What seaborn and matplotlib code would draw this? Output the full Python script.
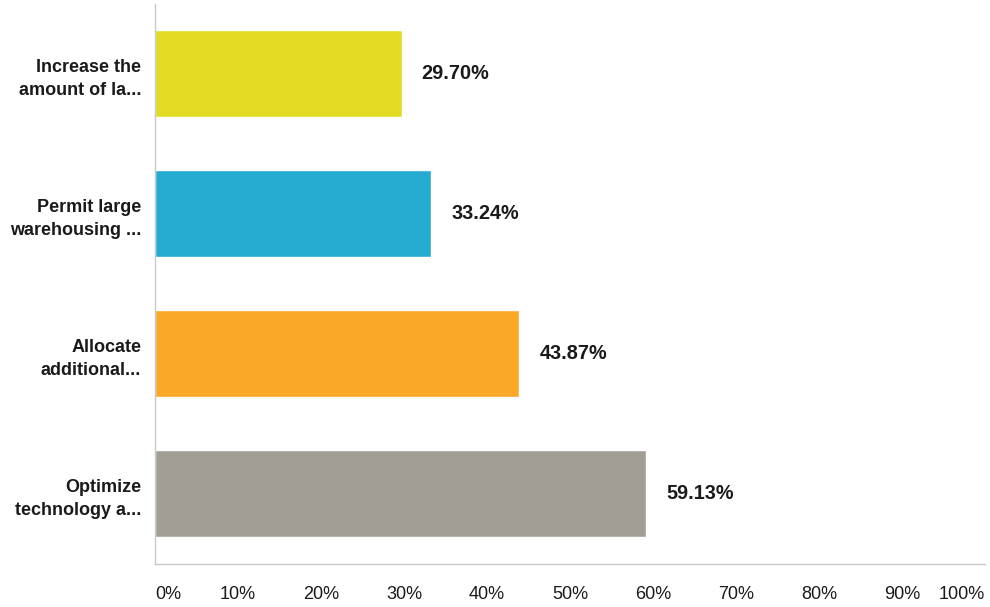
import matplotlib
matplotlib.use('Agg')
import matplotlib.pyplot as plt
import seaborn as sns
import pandas as pd

# Survey answers (labels truncated as in the original)
categories = ['Increase the\namount of la...', 'Permit large\nwarehousing ...',
              'Allocate\nadditional...', 'Optimize\ntechnology a...']
values = [29.70, 33.24, 43.87, 59.13]
bar_colors = ['#E3DB22', '#25AAD0', '#F9A927', '#A39E95']
tick_values = [0, 10, 20, 30, 40, 50, 60, 70, 80, 90, 100]
tick_labels = [f'{t}%' for t in tick_values]

df = pd.DataFrame({'answer': categories, 'pct': values})

sns.set_theme(style='white')
plt.rcParams['font.family'] = ['Liberation Sans', 'DejaVu Sans']

fig = plt.figure(figsize=(9.9, 6.07), dpi=100)
ax = fig.add_axes([155 / 990, 43.5 / 607, 830 / 990, 560 / 607])

sns.barplot(data=df, y='answer', x='pct', hue='answer', palette=bar_colors,
            orient='h', width=0.62, legend=False, ax=ax, saturation=1)

for cont, v in zip(ax.containers, values):
    ax.bar_label(cont, labels=[f'{v:.2f}%'], padding=14.5, fontsize=14.3,
                 fontweight='bold', color='#1a1a1a')

ax.set_xlim(0, 100)
ax.set_ylim(3.5, -0.5)
ax.set_xticks(tick_values)
ax.set_xticklabels(tick_labels, fontsize=13, color='#1a1a1a')
ax.tick_params(axis='x', length=0, pad=16)
ax.tick_params(axis='y', length=0, pad=10)
for lab in ax.get_yticklabels():
    lab.set_fontweight('bold')
    lab.set_fontsize(13)
    lab.set_color('#1a1a1a')
    lab.set_linespacing(1.5)
xl = ax.get_xticklabels()
xl[0].set_horizontalalignment('left')
xl[-1].set_horizontalalignment('right')

ax.set_xlabel('')
ax.set_ylabel('')
for side in ['top', 'right']:
    ax.spines[side].set_visible(False)
for side in ['left', 'bottom']:
    ax.spines[side].set_color('#c8c8d0')
    ax.spines[side].set_linewidth(1.0)
    ax.spines[side].set_linestyle((0, (2, 1)))

fig.savefig('out.png', dpi=100)
